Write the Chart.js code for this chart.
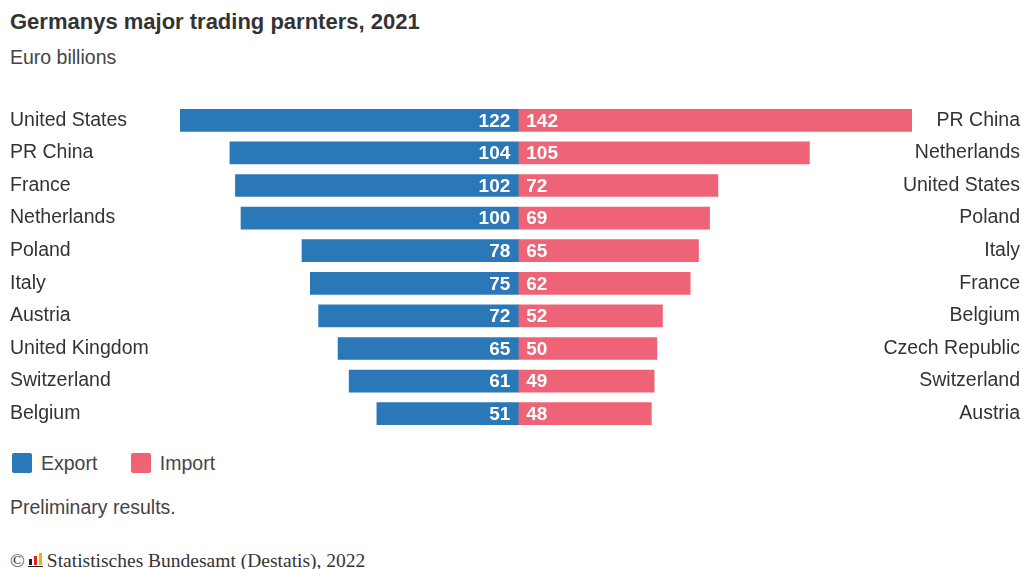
<!DOCTYPE html>
<html>
<head>
<meta charset="utf-8">
<script src="https://cdn.jsdelivr.net/npm/chart.js@4.4.1/dist/chart.umd.min.js"></script>
<style>
  body { margin: 0; width: 1022px; height: 569px; overflow: hidden; background: #fff;
         font-family: "Liberation Sans", Arial, sans-serif; color: #333; position: relative; }
  .title { position: absolute; left: 10px; top: 9px; font-size: 22px; font-weight: bold; color: #333; }
  .sub { position: absolute; left: 10px; top: 46px; font-size: 19.5px; color: #444; }
  #wrap { position: absolute; left: 0; top: 104px; width: 1022px; height: 326px; }
  .legend { position: absolute; left: 12px; top: 452px; font-size: 19.5px; color: #444; white-space: nowrap; }
  .legend span.box { display: inline-block; width: 20px; height: 20px; border-radius: 2px; vertical-align: -3px; margin-right: 9px; }
  .legend span.item { margin-right: 28px; }
  .note { position: absolute; left: 10px; top: 496px; font-size: 19.5px; color: #444; }
  .foot { position: absolute; left: 10px; top: 550px; font-size: 19.5px; color: #333; font-family: "Liberation Serif", "DejaVu Serif", serif; white-space: nowrap; }
  .icon { display: inline-block; position: relative; width: 16px; height: 14px; margin: 0 4px 0 2px; }
  .icon i { position: absolute; bottom: 2px; width: 3px; }
</style>
</head>
<body>
<div class="title">Germanys major trading parnters, 2021</div>
<div class="sub">Euro billions</div>
<div id="wrap"><canvas id="c"></canvas></div>
<div class="legend">
  <span class="item"><span class="box" style="background:#2b78b9"></span>Export</span>
  <span class="item"><span class="box" style="background:#ef6376"></span>Import</span>
</div>
<div class="note">Preliminary results.</div>
<div class="foot">©<span class="icon"><i style="left:2px;height:6px;background:#222"></i><i style="left:7px;height:9px;background:#d22"></i><i style="left:12px;height:12px;background:#e8b400"></i><i style="left:1px;bottom:0;width:15px;height:1px;background:#222"></i></span>Statistisches Bundesamt (Destatis), 2022</div>
<script>
// export side (left)
const exportCountries = ['United States', 'PR China', 'France', 'Netherlands', 'Poland', 'Italy', 'Austria', 'United Kingdom', 'Switzerland', 'Belgium'];
const exportValues = [122, 104, 102, 100, 78, 75, 72, 65, 61, 51];
// import side (right)
const importCountries = ['PR China', 'Netherlands', 'United States', 'Poland', 'Italy', 'France', 'Belgium', 'Czech Republic', 'Switzerland', 'Austria'];
const importValues = [142, 105, 72, 69, 65, 62, 52, 50, 49, 48];

const blue = '#2b78b9';
const pink = '#ef6376';
const fontFamily = '"Liberation Sans", Arial, sans-serif';

// value labels at the zero line + import country names on the right
const valueLabels = {
  id: 'valueLabels',
  afterDatasetsDraw(chart) {
    const ctx = chart.ctx;
    const x0 = chart.scales.x.getPixelForValue(0);
    const yScale = chart.scales.y;
    ctx.save();
    ctx.textBaseline = 'middle';
    ctx.fillStyle = '#fff';
    ctx.font = 'bold 19px ' + fontFamily;
    chart.getDatasetMeta(0).data.forEach((bar, i) => {
      ctx.textAlign = 'right';
      ctx.fillText(exportValues[i], x0 - 8, bar.y + 1);
    });
    chart.getDatasetMeta(1).data.forEach((bar, i) => {
      ctx.textAlign = 'left';
      ctx.fillText(importValues[i], x0 + 8, bar.y + 1);
    });
    ctx.fillStyle = '#333';
    ctx.font = '19.5px ' + fontFamily;
    ctx.textAlign = 'right';
    importCountries.forEach((name, i) => {
      ctx.fillText(name, chart.width - 2, yScale.getPixelForValue(i));
    });
    ctx.restore();
  }
};

new Chart(document.getElementById('c'), {
  type: 'bar',
  data: {
    labels: exportCountries,
    datasets: [
      { label: 'Export', data: exportValues.map(v => -v), backgroundColor: blue, barThickness: 22, borderWidth: 0 },
      { label: 'Import', data: importValues, backgroundColor: pink, barThickness: 22, borderWidth: 0 }
    ]
  },
  options: {
    indexAxis: 'y',
    responsive: true,
    maintainAspectRatio: false,
    animation: false,
    layout: { padding: { left: 10, right: 110, top: 0, bottom: 0 } },
    plugins: { legend: { display: false }, tooltip: { enabled: false } },
    scales: {
      x: {
        stacked: true,
        display: false,
        min: -Math.max(...exportValues),
        max: Math.max(...importValues)
      },
      y: {
        stacked: true,
        position: 'left',
        grid: { display: false },
        border: { display: false },
        ticks: { crossAlign: 'far', color: '#333', font: { family: fontFamily, size: 19.5 }, padding: 0 },
        afterFit(s) { s.width = 170; s.paddingTop = 0; s.paddingBottom = 0; }
      }
    }
  },
  plugins: [valueLabels]
});
</script>
</body>
</html>
